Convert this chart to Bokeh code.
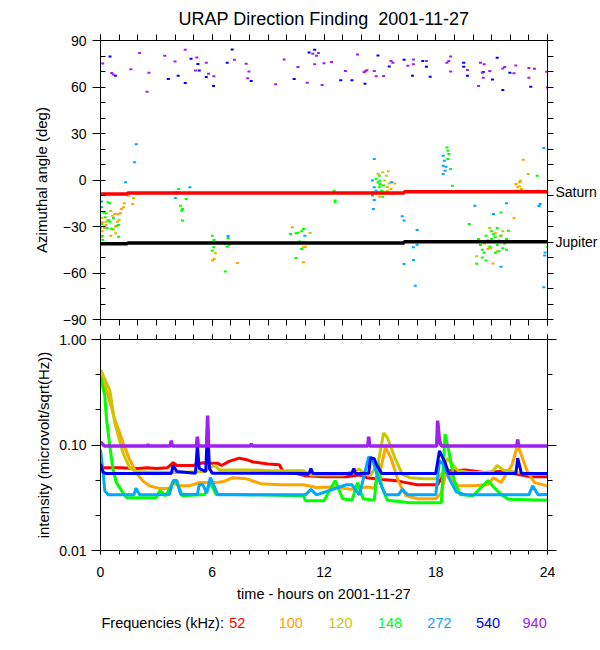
import numpy as np
from bokeh.plotting import figure
from bokeh.layouts import column
from bokeh.models import (Range1d, LinearAxis, LogAxis, FixedTicker,
                          PrintfTickFormatter, Label)
from bokeh.embed import file_html
from bokeh.resources import INLINE

FONT = "Liberation Sans"

# ---------------- data ----------------
freq_labels = ["52", "100", "120", "148", "272", "540", "940"]
freq_colors = ["#ff0000", "#ffa500", "#c8c800", "#00ff00", "#00a8ff", "#0000ff", "#a020f0"]
legend_title = "Frequencies (kHz):"

title_text = "URAP Direction Finding \u00a02001-11-27"
hour_ticks = [0, 6, 12, 18, 24]
angle_ticks = [-90, -60, -30, 0, 30, 60, 90]
intensity_ticks = [0.01, 0.1, 1.0]

# planet directions (step lines)
saturn_t = [0.0, 1.45, 16.3, 24.0]
saturn_deg = [-9.0, -8.4, -7.6, -7.6]
jupiter_t = [0.0, 1.45, 16.3, 24.0]
jupiter_deg = [-41.2, -40.6, -39.8, -39.8]

# direction-finding points per frequency (hours, azimuth deg)
df940_t = [0.12, 0.6, 0.68, 1.63, 2.1, 2.6, 2.5, 3.45, 4.0, 4.55, 5.17, 5.1, 5.68, 5.8, 6.09, 7.19, 7.82, 7.97, 7.9, 9.4,
           9.86, 10.6, 11.1, 11.4, 11.7, 11.6, 11.5, 11.9, 12.0, 12.4, 13.15, 13.8, 14.15, 14.22, 14.3, 14.7, 14.8, 15.2,
           15.6, 15.7, 16.5, 16.8, 16.8, 17.5, 18.6, 18.7, 18.8, 18.8, 19.7, 20.3, 20.4, 20.5, 20.55, 20.6, 20.9, 21.6,
           21.7, 22.2, 22.3, 23.0, 23.0, 23.3, 23.96, 24.0]
df940_deg = [75.2, 69, 68, 71.4, 81.9, 69.2, 57, 80.1, 76.5, 84, 79.1, 70.7, 75.6, 68.6, 67, 77.6, 75, 70, 65.6, 61.7,
             77.8, 72.9, 62.8, 81.4, 81.9, 80.1, 74.6, 61.3, 75.4, 76.1, 70.3, 81, 69.5, 70.2, 70.8, 70.3, 66.9, 67.1,
             76.7, 75.6, 73.7, 77.8, 74.6, 76.7, 75.6, 76.7, 79.7, 70, 70.9, 60.6, 75.6, 69.2, 66, 74.6, 70.3, 72,
             72.9, 68.8, 73.9, 72.2, 66, 71.8, 69.9, 59.6]
df540_t = [0.51, 0.8, 3.64, 4.17, 4.55, 4.86, 5.23, 5.3, 5.68, 6.07, 6.8, 7.07, 8.09, 10.4, 11.2, 11.5, 12.9, 13.5, 14.2,
           14.9, 15.5, 16.3, 16.75, 17.3, 17.5, 17.7, 19.5, 19.5, 19.7, 20.55, 21.05, 21.3, 21.6, 21.98, 23.1]
df540_deg = [79.7, 67.3, 65.1, 67.3, 62.6, 78.2, 74.8, 70.7, 66.4, 60.6, 75.6, 84.2, 63.9, 65.1, 82.3, 84, 64.3, 64.3, 62.1,
             80.4, 73.3, 77.6, 67.3, 76.7, 73.1, 66.6, 75.6, 73.1, 67.3, 69.6, 64.9, 78.9, 58.1, 69.2, 60.2]
df272_t = [0.06, 0.06, 1.83, 1.92, 1.35, 4.02, 4.8, 4.06, 10.97, 14.6, 14.7, 14.6, 14.7, 14.65, 14.7, 15.64, 14.8, 16.2,
           16.3, 16.8, 16.8, 16.3, 16.9, 17.0, 17.0, 18.4, 18.46, 18.4, 18.4, 18.5, 18.55, 20.1, 21.1, 21.5, 21.8, 21.3,
           23.8, 23.5, 23.6, 23.55, 23.87, 23.8, 23.85, 6.85]
df272_deg = [-13.8, -17.6, 11.4, 23, -1.5, -11.6, -4.7, -8, -35.9, -0.4, -4.7, -10, -12.9, -18.7, 13.5, -1.5, -6.9, -23.4,
             -26.2, -43.4, -51.6, -54.2, -68.2, -32.3, -41.7, 15.7, 12.5, 9.2, 3.9, 6, 8.5, -16.6, -21.9, -55.9, -15, -40,
             20.6, -6.9, -15.5, -16.8, -46.7, -69.2, -48.7, -36.2]
df148_t = [0.4, 0.5, 0.17, 0.3, 0.06, 0.1, 0.12, 0.45, 0.5, 0.6, 0.88, 0.97, 0.97, 0.25, 0.7, 0.35,
           4.2, 4.25, 4.3, 4.36, 4.4, 4.4, 4.6,
           6.0, 6.1, 6.08, 6.0, 6.7, 6.8, 6.9, 6.85, 6.7,
           10.5, 10.6, 10.8, 10.9, 10.2, 10.5, 10.8, 10.7, 10.9,
           12.55, 12.6, 12.6,
           14.8, 14.9, 14.97, 15.0, 15.1, 14.97, 15.07, 14.65, 15.16, 15.0, 15.2,
           18.6, 18.65, 18.7, 18.8, 18.65, 18.9,
           19.8, 21.5, 21.9,
           20.3, 20.4, 20.5, 20.6, 20.7, 20.8, 20.9, 21.0, 21.1, 21.2, 21.3, 21.4, 21.5, 21.6, 21.7, 21.8, 20.5, 20.7,
           21.2, 21.4, 20.2, 21.0, 21.3, 20.6, 21.8,
           23.45, 24.0]
df148_deg = [-14.4, -15, -20.9, -21.5, -28.4, -36, -38.7, -26.2, -26.9, -31.6, -29.5, -29, -36.6, -24, -24.5, -31,
             -5.8, -8, -16.6, -19.8, -18.7, -26.2, -12.3,
             -36, -38.7, -43.4, -45.6, -41.3, -43, -41.7, -37.4, -59.1,
             -34.4, -34.0, -33, -31.6, -34.8, -50.3, -44.5, -39.6, -40.2,
             -6.9, -13.3, -14.4,
             0.6, -1.5, -4.7, -2.6, -6.9, 2.8, -9, -8.6, -10.8, -0.5, -3.5,
             21, 18.9, 16.8, 7.1, 13.5, -3.7,
             -28.4, -20.9, -32.7,
             -38, -42, -45, -40, -36, -39, -43, -38, -35, -37, -42, -39, -36, -44, -41, -45, -50, -52,
             -47, -46, -54, -33, -31, -47, -38,
             2.8, -43]
df120_t = [0.2, 0.7, 1.0, 0.82, 1.77, 1.92, 0.3, 0.55,
           6.17, 11.25,
           14.9, 15.16, 15.35, 15.45, 15.26, 15.6, 15.16, 15.4, 15.05,
           20.9, 20.2, 20.95, 21.2, 21.6, 22.97, 22.5]
df120_deg = [-31, -32, -25.8, -34.4, -11.6, -9, -27, -20,
             -47.3, -34.2,
             4, 5, 2.8, 5.6, -0.4, -1.4, -8, -6.9, -3,
             -31, -49.2, -44, -40, -33, 3.9, -4]
df100_t = [0.06, 0.1, 0.0, 0.1, 0.06, 0.8, 0.65, 0.78, 0.93, 1.07, 1.12, 1.24, 1.28, 0.55, 1.5, 1.73, 2.08, 0.4, 0.3, 0.9,
           6.02, 6.1, 7.35,
           10.3, 10.9, 11.0, 10.9,
           15.5, 15.8, 15.6, 15.0, 15.65, 15.3, 15.4,
           21.2, 20.8, 21.07, 21.5, 22.2, 20.6, 21.3,
           22.3, 22.4, 22.5, 22.6, 22.7, 22.27, 22.55]
df100_deg = [-24.5, -27.3, -31, -33, -37, -30, -23, -21.9, -21.9, -21.5, -18.7, -17.6, -15, -35.9, -10.1, -15.5, -8.6, -26,
             -29, -27,
             -52, -51, -53.5,
             -30.5, -43.4, -43, -53,
             -2.2, -2.2, -5.8, -10.8, -9.0, -8.5, -4.5,
             -34.4, -44.5, -53.8, -35.9, -24.7, -41, -46,
             -2.6, -4.7, -1.5, -5.8, 13.1, -6.9, -0.5]

# intensity time series per frequency (hours, microvolt/sqrt(Hz))
i52_t = [0, 1, 2, 2.5, 3.0, 3.6, 3.9, 4.1, 5.0, 5.2, 5.5, 5.9, 6.3, 6.5, 6.9, 7.45, 7.8, 8.2, 9.0, 9.6, 9.8, 10.5,
         11.0, 12.0, 13.2, 13.9, 14.3, 15.1, 15.8, 16.4, 17.0, 18.1, 18.5, 19.0, 19.6, 20.6, 21.5, 22.3, 23.1, 24.0]
i52_v = [0.061, 0.061, 0.060, 0.061, 0.060, 0.061, 0.068, 0.064, 0.064, 0.066, 0.068, 0.067, 0.067, 0.064, 0.070,
         0.075, 0.073, 0.069, 0.066, 0.065, 0.056, 0.054, 0.051, 0.050, 0.050, 0.052, 0.049, 0.047, 0.046, 0.044,
         0.042, 0.042, 0.057, 0.057, 0.058, 0.055, 0.056, 0.053, 0.050, 0.050]
i100_t = [0, 0.05, 0.41, 0.76, 1.2, 1.56, 1.91, 2.27, 2.62, 3.16, 3.7, 3.87, 4.2, 4.75, 5.3, 6.2, 6.6, 7.1, 7.8, 8.6,
          9.7, 10.9, 11.6, 12.6, 13.4, 14.3, 14.7, 15.0, 15.3, 15.6, 16.0, 16.4, 17.0, 18.0, 18.3, 18.6, 19.1, 20.0,
          20.8, 21.1, 21.5, 22.1, 22.4, 22.9, 23.3, 24.0]
i100_v = [0.42, 0.45, 0.295, 0.177, 0.106, 0.073, 0.055, 0.0457, 0.041, 0.0387, 0.039, 0.044, 0.041, 0.041, 0.044,
          0.044, 0.045, 0.049, 0.048, 0.043, 0.042, 0.042, 0.0395, 0.040, 0.038, 0.040, 0.039, 0.055, 0.095, 0.075,
          0.045, 0.033, 0.031, 0.031, 0.035, 0.060, 0.041, 0.041, 0.042, 0.049, 0.044, 0.065, 0.100, 0.057, 0.044,
          0.041]
i120_t = [0, 0.5, 0.76, 1.2, 1.56, 1.9, 2.5, 4.0, 5.5, 6.1, 6.4, 8.0, 9.2, 10.9, 11.3, 13.0, 13.9, 14.2, 14.5, 14.9,
          15.2, 15.4, 15.8, 16.2, 16.6, 17.4, 18.1, 18.4, 18.6, 19.2, 19.8, 21.0, 21.3, 21.6, 22.4, 23.0, 24.0]
i120_v = [0.52, 0.33, 0.164, 0.085, 0.061, 0.056, 0.0555, 0.055, 0.056, 0.064, 0.058, 0.058, 0.057, 0.057, 0.052,
          0.052, 0.059, 0.053, 0.052, 0.066, 0.13, 0.118, 0.076, 0.053, 0.049, 0.048, 0.048, 0.055, 0.075, 0.057,
          0.055, 0.055, 0.064, 0.058, 0.055, 0.053, 0.053]
i148_t = [0, 0.23, 0.32, 0.5, 0.67, 0.85, 1.2, 1.4, 3.0, 3.2, 3.5, 3.9, 4.1, 4.4, 5.6, 5.9, 6.2, 7.1, 10.9, 11.0,
          12.0, 12.6, 13.0, 13.5, 13.8, 14.1, 14.7, 14.9, 15.1, 15.4, 16.6, 18.3, 18.5, 18.7, 19.0, 19.3, 20.0, 20.8,
          21.1, 21.5, 21.9, 24.0]
i148_v = [0.44, 0.295, 0.177, 0.098, 0.059, 0.044, 0.0354, 0.0317, 0.0317, 0.037, 0.033, 0.044, 0.044, 0.033, 0.034,
          0.044, 0.034, 0.034, 0.033, 0.0296, 0.0296, 0.046, 0.031, 0.030, 0.044, 0.031, 0.030, 0.068, 0.040, 0.030,
          0.0284, 0.0284, 0.127, 0.088, 0.046, 0.034, 0.033, 0.046, 0.040, 0.034, 0.0306, 0.030]
i272_t = [0, 0.14, 0.23, 0.4, 1.8, 1.9, 2.1, 3.7, 3.9, 4.1, 4.3, 5.2, 5.3, 5.5, 5.7, 5.9, 6.3, 11.0, 11.3, 11.6,
          13.2, 13.5, 13.9, 14.4, 14.6, 14.9, 15.3, 16.0, 16.2, 16.5, 18.0, 18.2, 18.4, 18.7, 19.1, 19.6, 23.0, 23.2,
          23.5, 24.0]
i272_v = [0.09, 0.055, 0.037, 0.0338, 0.0338, 0.039, 0.0338, 0.034, 0.046, 0.046, 0.034, 0.034, 0.042, 0.042, 0.035,
          0.049, 0.0337, 0.0337, 0.038, 0.0337, 0.042, 0.042, 0.0337, 0.077, 0.074, 0.049, 0.0337, 0.0337, 0.038,
          0.0337, 0.0337, 0.071, 0.066, 0.049, 0.036, 0.0337, 0.0337, 0.041, 0.0337, 0.034]
i540_t = [0, 0.14, 0.3, 3.8, 3.9, 4.1, 5.1, 5.2, 5.3, 5.65, 5.75, 5.85, 6.0, 11.2, 11.3, 11.4, 13.5, 13.6, 13.7, 14.4,
          14.5, 14.7, 14.8, 15.1, 18.0, 18.2, 18.5, 18.7, 22.3, 22.4, 22.6, 24.0]
i540_v = [0.066, 0.055, 0.0537, 0.0537, 0.064, 0.056, 0.054, 0.10, 0.06, 0.056, 0.15, 0.06, 0.054, 0.0537, 0.060,
          0.0537, 0.0537, 0.060, 0.0537, 0.054, 0.076, 0.074, 0.066, 0.0537, 0.0537, 0.088, 0.068, 0.0537, 0.0537,
          0.075, 0.0537, 0.0537]
i940_t = [0, 0.2, 2.5, 2.55, 2.6, 3.75, 3.8, 3.85, 5.15, 5.2, 5.25, 5.7, 5.75, 5.8, 8.05, 8.1, 8.15, 14.35, 14.4,
          14.45, 18.05, 18.1, 18.2, 18.3, 22.35, 22.4, 22.45, 24.0]
i940_v = [0.107, 0.098, 0.098, 0.101, 0.098, 0.098, 0.11, 0.098, 0.098, 0.12, 0.098, 0.098, 0.19, 0.098, 0.098, 0.103,
          0.098, 0.098, 0.12, 0.098, 0.098, 0.17, 0.11, 0.098, 0.098, 0.113, 0.098, 0.098]

df_series = [(df100_t, df100_deg, 1), (df120_t, df120_deg, 2), (df148_t, df148_deg, 3),
             (df272_t, df272_deg, 4), (df540_t, df540_deg, 5), (df940_t, df940_deg, 6)]
int_series = [(i52_t, i52_v, 0), (i100_t, i100_v, 1), (i120_t, i120_v, 2), (i148_t, i148_v, 3),
              (i272_t, i272_v, 4), (i540_t, i540_v, 5), (i940_t, i940_v, 6)]

# ---------------- styling helpers ----------------
W = 600
LEFT, RIGHT = 100, 49
FRAME_L, FRAME_R = LEFT, W - RIGHT


def style_axis(ax, labels=True, size="14px"):
    ax.axis_line_color = "black"
    ax.major_tick_line_color = "black"
    ax.minor_tick_line_color = "black"
    ax.major_label_text_font = FONT
    ax.major_label_text_font_size = size
    ax.major_label_text_color = "black" if labels else None
    ax.axis_label_text_font = FONT
    ax.axis_label_text_font_style = "normal"
    ax.axis_label_text_color = "black"


def hour_axis(labels=False, out=6):
    ax = LinearAxis(ticker=FixedTicker(ticks=hour_ticks, minor_ticks=list(range(0, 25))))
    style_axis(ax, labels)
    ax.major_tick_out = out
    ax.major_tick_in = 0
    ax.minor_tick_out = out
    ax.minor_tick_in = 0
    return ax


def blank(p):
    p.grid.visible = False
    p.background_fill_color = "white"
    p.border_fill_color = "white"


# ---------------- top panel ----------------
p1 = figure(width=W, height=329, x_range=Range1d(0, 24), y_range=Range1d(-90, 90),
            output_backend="svg", toolbar_location=None,
            x_axis_location=None, y_axis_location=None,
            min_border_left=LEFT, min_border_right=RIGHT, min_border_top=40, min_border_bottom=10)
blank(p1)
p1.outline_line_color = "black"

angle_minor = list(range(-90, 91, 10))
ly = LinearAxis(ticker=FixedTicker(ticks=angle_ticks, minor_ticks=angle_minor),
                axis_label="Azimuthal angle (deg)")
style_axis(ly)
ly.major_tick_out = 8
ly.major_tick_in = 0
ly.minor_tick_out = 0
ly.minor_tick_in = 5
ly.major_label_standoff = 6
ly.axis_label_text_font_size = "15px"
ly.axis_label_standoff = 10
p1.add_layout(ly, "left")

# right axis: tick marks every 10 deg, planet names as labels
planet_overrides = {saturn_deg[-1]: "Saturn", jupiter_deg[-1]: "Jupiter"}
ry = LinearAxis(ticker=FixedTicker(ticks=[saturn_deg[-1], jupiter_deg[-1]], minor_ticks=angle_minor),
                major_label_overrides=planet_overrides)
style_axis(ry)
ry.major_tick_out = 0
ry.major_tick_in = 0
ry.minor_tick_out = 6
ry.minor_tick_in = 0
ry.major_label_standoff = 2
p1.add_layout(ry, "right")

tx = hour_axis(out=6)
tx.axis_label = title_text
tx.axis_label_text_font_size = "18px"
tx.axis_label_standoff = 6
tx.major_label_standoff = 0
p1.add_layout(tx, "above")
bx1 = hour_axis(out=6)
bx1.major_label_standoff = 0
p1.add_layout(bx1, "below")

for t, d, ci in df_series:
    p1.rect(x=t, y=d, width=3, height=2, width_units="screen", height_units="screen",
            fill_color=freq_colors[ci], line_color=None)

p1.step(x=saturn_t, y=saturn_deg, mode="after", line_color="#ff0000", line_width=3.5)
p1.step(x=jupiter_t, y=jupiter_deg, mode="after", line_color="black", line_width=3.5)

# ---------------- bottom panel ----------------
p2 = figure(width=W, height=280, x_range=Range1d(0, 24), y_range=Range1d(0.01, 1.0),
            y_axis_type="log", output_backend="svg", toolbar_location=None,
            x_axis_location=None, y_axis_location=None,
            min_border_left=LEFT, min_border_right=RIGHT, min_border_top=10, min_border_bottom=59)
blank(p2)
p2.outline_line_color = "black"

third_decades = [0.0215443, 0.0464159, 0.215443, 0.464159]
ly2 = LogAxis(ticker=FixedTicker(ticks=intensity_ticks, minor_ticks=third_decades),
              formatter=PrintfTickFormatter(format="%.2f"),
              axis_label="intensity (microvolt/sqrt(Hz))")
style_axis(ly2)
ly2.major_tick_out = 9
ly2.major_tick_in = 0
ly2.minor_tick_out = 5
ly2.minor_tick_in = 0
ly2.major_label_standoff = 5
ly2.axis_label_text_font_size = "15px"
ly2.axis_label_standoff = 4
p2.add_layout(ly2, "left")

ry2 = LogAxis(ticker=FixedTicker(ticks=intensity_ticks, minor_ticks=third_decades))
style_axis(ry2, labels=False)
ry2.major_tick_out = 9
ry2.major_tick_in = 0
ry2.minor_tick_out = 5
ry2.minor_tick_in = 0
p2.add_layout(ry2, "right")

tx2 = hour_axis(out=5)
tx2.major_label_standoff = 0
p2.add_layout(tx2, "above")

bx2 = hour_axis(labels=True, out=4)
bx2.major_label_standoff = 12
bx2.axis_label = "time - hours on 2001-11-27"
bx2.axis_label_text_font_size = "14.5px"
bx2.axis_label_standoff = 6
p2.add_layout(bx2, "below")

for t, v, ci in int_series:
    p2.line(x=t, y=v, line_color=freq_colors[ci], line_width=3.5 if ci == 6 else 3)

# ---------------- legend row (own strip; its frame lines up with the panels, x in page pixels) ----------------
p3 = figure(width=W, height=30, x_range=Range1d(FRAME_L, FRAME_R), y_range=Range1d(30, 0),
            output_backend="svg", toolbar_location=None,
            x_axis_location=None, y_axis_location=None,
            min_border_left=LEFT, min_border_right=RIGHT, min_border_top=0, min_border_bottom=0)
blank(p3)
p3.outline_line_color = None

legend_y = 13
p3.add_layout(Label(x=101, y=legend_y, text=legend_title, text_font=FONT, text_font_size="14.5px",
                    text_baseline="middle", text_align="left", text_color="black"))
legend_x = [238, 292, 342, 392, 442, 491, 538]
for lab, col, xo in zip(freq_labels, freq_colors, legend_x):
    p3.add_layout(Label(x=xo, y=legend_y, text=lab, text_font=FONT, text_font_size="14.5px",
                        text_baseline="middle", text_align="center", text_color=col))

layout = column(p1, p2, p3, spacing=0)
open("out.html", "w").write(file_html(layout, INLINE))
